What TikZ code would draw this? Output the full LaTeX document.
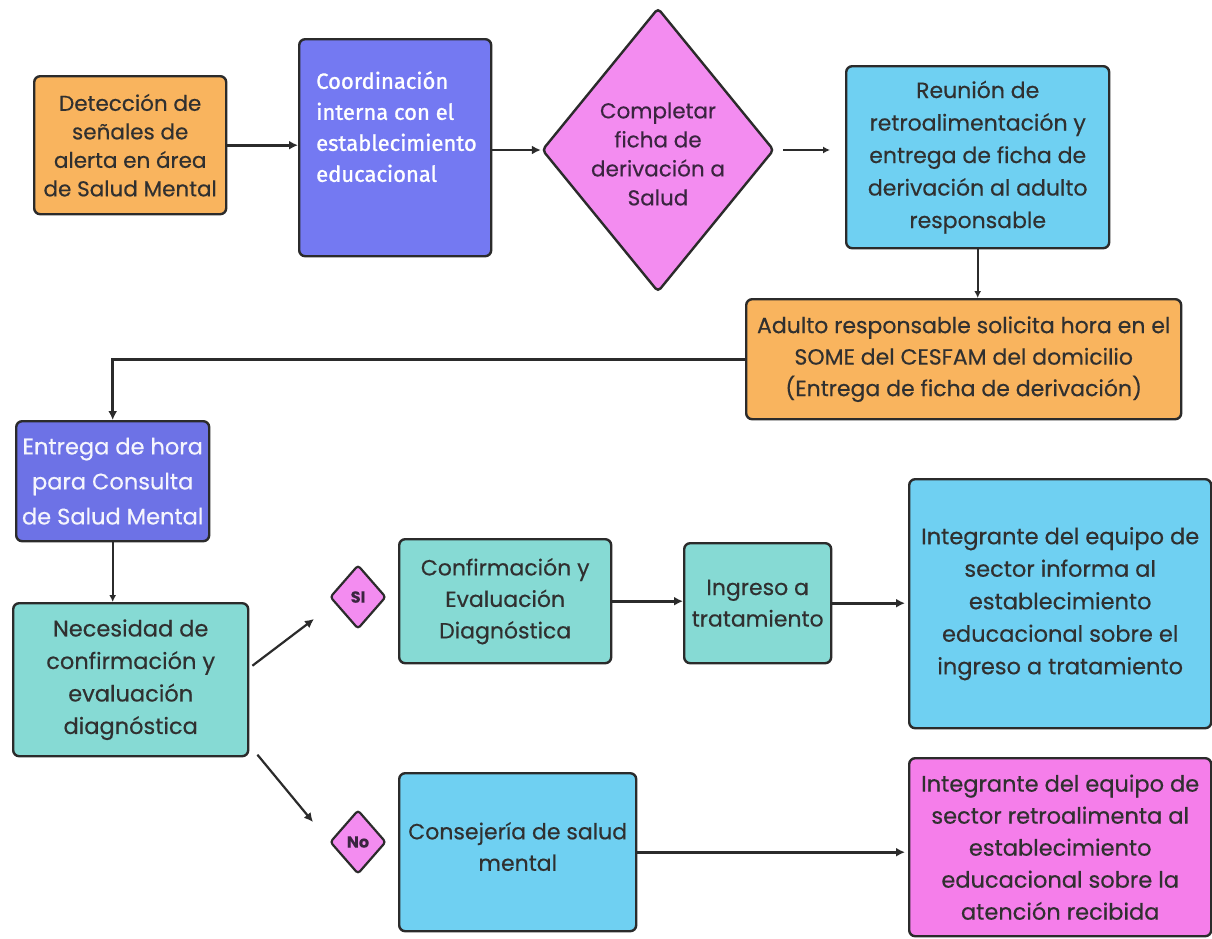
\documentclass[tikz,border=0pt]{standalone}
\usepackage{fontspec}
\setmainfont[FakeBold=0.4]{Poppins}
\newfontfamily\coordfont[FakeBold=1.2]{Fira Sans}
\usetikzlibrary{shapes.geometric,arrows.meta}
\definecolor{orangeF}{HTML}{F9B45E}
\definecolor{violetF}{HTML}{7479F2}
\definecolor{violetE}{HTML}{6D72E6}
\definecolor{pinkF}{HTML}{F38CF0}
\definecolor{skyF}{HTML}{6FD0F2}
\definecolor{tealF}{HTML}{86DAD4}
\definecolor{magF}{HTML}{F57EEA}
\definecolor{edgeC}{HTML}{2B2B2B}
\definecolor{txtC}{HTML}{303030}
\definecolor{diaTxt}{HTML}{3A2540}
\begin{document}
\begin{tikzpicture}[x=1pt,y=-1pt,
  box/.style={draw=edgeC, line width=2.4pt, rounded corners=6pt, anchor=north west,
    inner sep=0pt, align=center, font=\fontsize{22}{31.5}\selectfont, text=txtC},
  bigdia/.style={diamond, draw=edgeC, line width=2.4pt, fill=pinkF, rounded corners=4pt,
    inner sep=0pt, align=center},
  diatext/.style={inner sep=0pt, align=center, font=\fontsize{21.5}{29}\selectfont, text=diaTxt},
  smalldia/.style={diamond, draw=edgeC, line width=2.2pt, fill=pinkF, rounded corners=3pt,
    inner sep=0pt, minimum width=56pt, minimum height=64pt,
    font=\fontsize{16}{17}\selectfont\bfseries, text=diaTxt},
  arr/.style={draw=edgeC, line width=2.6pt, -{Latex[length=9pt,width=9pt]}},
  thinarr/.style={draw=edgeC, line width=1.3pt, -{Latex[length=7pt,width=7pt]}}
]
\useasboundingbox (0,0) rectangle (1212,938);
\fill[white] (0,0) rectangle (1212,938);

% top row
\node[box, fill=orangeF, minimum width=192pt, minimum height=138pt,
  font=\fontsize{21.5}{28.5}\selectfont] (det) at (33,75)
  {Detección de\\señales de\\alerta en área\\de Salud Mental};
\node[box, fill=violetF, minimum width=192pt, minimum height=217pt] (coo) at (298,38) {};
\node[anchor=north west, align=left, inner sep=0pt, text=white,
  font=\coordfont\fontsize{22}{31}\selectfont] (cootxt) at (316,71)
  {Coordinación\\interna con el\\establecimiento\\educacional};
\node[bigdia, minimum width=232pt, minimum height=284pt] (dia) at (658,150) {};
\node[diatext] (diatxt) at ([yshift=-4pt]dia.center)
  {Completar\\ficha de\\derivación a\\Salud};
\node[box, fill=skyF, minimum width=263pt, minimum height=182pt,
  font=\fontsize{22}{32.5}\selectfont] (reu) at (845,65)
  {Reunión de\\retroalimentación y\\entrega de ficha de\\derivación al adulto\\responsable};
\node[box, fill=orangeF, minimum width=435pt, minimum height=120pt] (adu) at (745,298)
  {Adulto responsable solicita hora en el\\SOME del CESFAM del domicilio\\(Entrega de ficha de derivación)};

% left column
\node[box, fill=violetE, text=white!93!violetE, minimum width=193pt, minimum height=120pt,
  font=\fontsize{22.5}{35}\selectfont] (ent) at (15,420)
  {Entrega de hora\\para Consulta\\de Salud Mental};
\node[box, fill=tealF, minimum width=235pt, minimum height=153pt,
  font=\fontsize{22.5}{32.5}\selectfont] (nec) at (12,602)
  {Necesidad de\\confirmación y\\evaluación\\diagnóstica};

% decision branches
\node[smalldia] (si) at (358,597) {SI};
\node[smalldia] (no) at (358,842) {No};
\node[box, fill=tealF, minimum width=212pt, minimum height=124pt] (con) at (398,538)
  {Confirmación y\\Evaluación\\Diagnóstica};
\node[box, fill=tealF, minimum width=147pt, minimum height=120pt] (ing) at (683,542)
  {Ingreso a\\tratamiento};
\node[box, fill=skyF, minimum width=302pt, minimum height=249pt,
  font=\fontsize{22.5}{32.5}\selectfont] (inf) at (908,478)
  {Integrante del equipo de\\sector informa al\\establecimiento\\educacional sobre el\\ingreso a tratamiento};
\node[box, fill=skyF, minimum width=237pt, minimum height=158pt] (cons) at (398,772)
  {Consejería de salud\\mental\\[-20pt]};
\node[box, fill=magF, minimum width=302pt, minimum height=178pt,
  font=\fontsize{22.5}{32}\selectfont] (ret) at (908,757)
  {Integrante del equipo de\\sector retroalimenta al\\establecimiento\\educacional sobre la\\atención recibida};

% free arrow ends
\coordinate (siend) at (314,619);
\coordinate (noend) at (313,822);

% connectors
\draw[arr] (det.east) -- (coo.west |- det.east);
\draw[arr] (coo.east |- dia.west) -- (dia.west);
\draw[thinarr, shorten <=8pt, shorten >=15pt] (dia.east) -- (reu.west |- dia.east);
\draw[thinarr, line width=1.6pt] (reu.south) -- (reu.south |- adu.north);
\draw[arr] (adu.west) -- (ent.north |- adu.west) -- (ent.north);
\draw[thinarr, line width=1.6pt] (ent.south) -- (ent.south |- nec.north);
\draw[arr, line width=2.2pt] ([shift={(3,-14)}]nec.east) -- (siend);
\draw[arr, line width=2.2pt] ([shift={(8,75)}]nec.east) -- (noend);
\draw[arr] (con.east) -- (ing.west |- con.east);
\draw[arr, shorten >=3pt] (ing.east) -- (inf.west |- ing.east);
\draw[arr, shorten >=3pt] (cons.east) -- (ret.west |- cons.east);
\end{tikzpicture}
\end{document}
